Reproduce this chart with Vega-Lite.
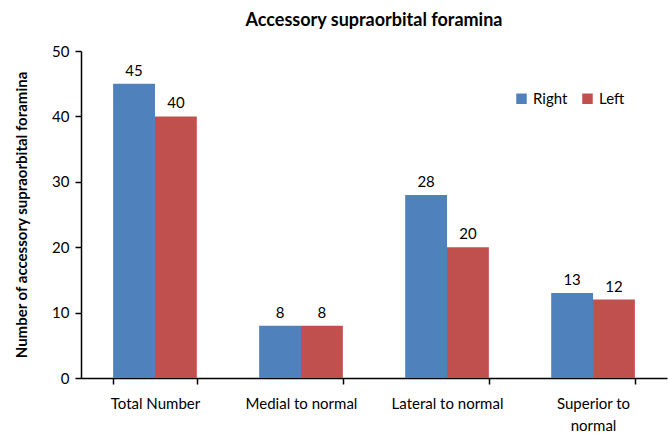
{
  "$schema": "https://vega.github.io/schema/vega-lite/v6.json",
  "autosize": "none",
  "width": 586,
  "height": 327,
  "padding": {"left": 81, "top": 51, "right": 1, "bottom": 57},
  "background": "white",
  "config": {
    "view": {"stroke": null},
    "font": "Lato",
    "axis": {"grid": false, "domainColor": "#000", "tickColor": "#000", "labelColor": "#000", "titleColor": "#000", "labelFont": "Lato", "titleFont": "Lato", "domainWidth": 1.5, "tickWidth": 1.5}
  },
  "title": {"text": "Accessory supraorbital foramina", "fontSize": 18, "fontWeight": "bold", "font": "Lato", "offset": 14, "color": "#000"},
  "data": {"values": [
    {"category": "Total Number", "side": "Right", "value": 45},
    {"category": "Total Number", "side": "Left", "value": 40},
    {"category": "Medial to normal", "side": "Right", "value": 8},
    {"category": "Medial to normal", "side": "Left", "value": 8},
    {"category": "Lateral to normal", "side": "Right", "value": 28},
    {"category": "Lateral to normal", "side": "Left", "value": 20},
    {"category": "Superior to normal", "side": "Right", "value": 13},
    {"category": "Superior to normal", "side": "Left", "value": 12}
  ]},
  "encoding": {
    "x": {"field": "category", "type": "nominal", "sort": null,
      "scale": {"paddingInner": 0.427, "paddingOuter": 0.22},
      "axis": {"title": null, "labelAngle": 0, "labelFontSize": 15, "tickBand": "extent", "tickSize": 6, "labelPadding": 12,
        "labelExpr": "datum.label == 'Superior to normal' ? ['Superior to', 'normal'] : datum.label", "labelLineHeight": 22}},
    "xOffset": {"field": "side", "type": "nominal", "sort": ["Right", "Left"]},
    "y": {"field": "value", "type": "quantitative",
      "scale": {"domain": [0, 50]},
      "axis": {"title": "Number of accessory supraorbital foramina", "titleFontSize": 15, "titleFontWeight": "bold", "titlePadding": 22, "values": [0, 10, 20, 30, 40, 50], "labelFontSize": 15, "tickSize": 6, "labelPadding": 6}}
  },
  "layer": [
    {
      "mark": {"type": "bar"},
      "encoding": {
        "color": {"field": "side", "type": "nominal", "sort": ["Right", "Left"],
          "scale": {"domain": ["Right", "Left"], "range": ["#4F81BD", "#C0504D"]},
          "legend": {"title": null, "orient": "none", "legendX": 433, "legendY": 40, "direction": "horizontal", "symbolType": "square", "symbolSize": 110, "labelFontSize": 15, "labelFont": "Lato", "labelColor": "#000", "columnPadding": 12, "symbolStrokeWidth": 0}
        }
      }
    },
    {
      "mark": {"type": "text", "dy": -13, "fontSize": 15, "color": "#000", "font": "Lato"},
      "encoding": {"text": {"field": "value", "type": "quantitative"}}
    }
  ]
}
